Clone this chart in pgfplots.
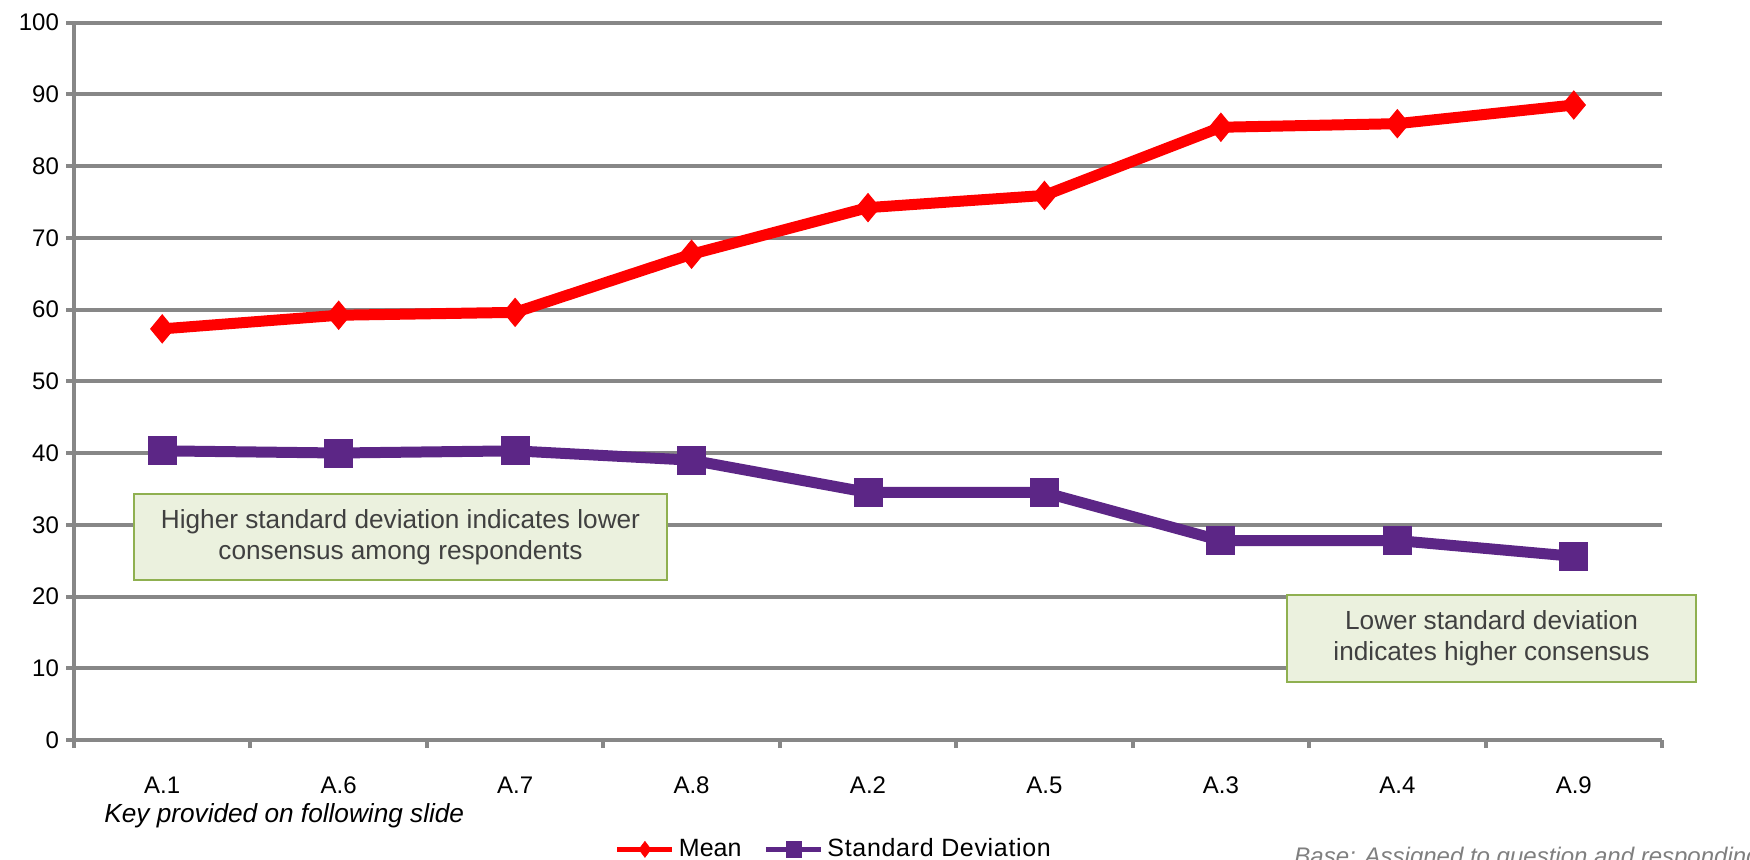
\documentclass[border=0pt]{standalone}
\usepackage{pgfplots}
\pgfplotsset{compat=1.18}
\usepackage{fontspec}
\setmainfont{Liberation Sans}
\definecolor{gridgray}{HTML}{878787}
\definecolor{sdpurple}{HTML}{5C2686}
\definecolor{boxfill}{HTML}{EBF1DE}
\definecolor{boxdraw}{HTML}{8FB050}
\definecolor{boxtext}{HTML}{404040}
\definecolor{basegray}{HTML}{7F7F7F}
\pgfplotsset{
  meanleg/.style={legend image code/.code={\draw[##1, line width=2.5pt, mark repeat=2, mark phase=2, mark size=4pt, mark options={solid, line width=0.3pt}] plot coordinates {(0pt,0pt) (13.75pt,0pt) (27.5pt,0pt)};}},
  sdleg/.style={legend image code/.code={\draw[##1, line width=2.5pt, mark repeat=2, mark phase=2, mark size=3.8pt, mark options={solid, line width=0.3pt}] plot coordinates {(0pt,0pt) (13.75pt,0pt) (27.5pt,0pt)};}},
}
\begin{document}
\begin{tikzpicture}
\useasboundingbox (0,0) rectangle (875pt,429.5pt);
\clip (0,0) rectangle (875pt,429.5pt);
\begin{axis}[
  at={(37pt,59.5pt)}, anchor=south west,
  scale only axis, width=794pt, height=358.75pt,
  xmin=-0.5, xmax=8.5, ymin=0, ymax=100,
  axis lines=left, axis line style={-, gridgray, line width=2pt},
  ytick={0,10,...,100},
  xtick={-0.5,0.5,...,8.5},
  x tick label as interval,
  xticklabels={A.1,A.6,A.7,A.8,A.2,A.5,A.3,A.4,A.9},
  ymajorgrids, major grid style={gridgray, line width=2pt},
  tick style={gridgray, line width=2pt},
  major tick length=4pt, tick align=outside,
  /pgf/number format/assume math mode=true,
  tick label style={font=\fontsize{12}{14}\selectfont, text=black},
  xticklabel style={yshift=-11pt},
  clip=false,
  legend style={at={(axis description cs:0.3404,-0.1524)}, anchor=west,
    draw=none, fill=none, inner sep=0pt, legend columns=2,
    font=\fontsize{12.5}{14}\selectfont,
    /tikz/every even column/.append style={column sep=9pt}},
]
\addplot[red, line width=5.5pt, mark=diamond*, mark size=7pt,
  mark options={solid, line width=0.5pt, xscale=1.1}, meanleg]
  coordinates {(0,57.3) (1,59.2) (2,59.6) (3,67.7) (4,74.2) (5,75.9) (6,85.4) (7,85.9) (8,88.5)};
\addlegendentry{Mean}
\addplot[sdpurple, line width=5.5pt, mark=square*, mark size=7pt,
  mark options={solid, line width=0.5pt}, sdleg]
  coordinates {(0,40.3) (1,40.0) (2,40.3) (3,39.0) (4,34.5) (5,34.5) (6,27.8) (7,27.8) (8,25.6)};
\addlegendentry{\addfontfeature{LetterSpace=2.7}Standard Deviation}
\end{axis}
\node[draw=boxdraw, line width=1pt, fill=boxfill, text=boxtext, minimum width=266.5pt, minimum height=43pt, align=center, inner sep=0pt, font=\fontsize{13.1}{15.6}\selectfont] at (200.25pt,161pt) {Higher standard deviation indicates lower\\consensus among respondents};
\node[draw=boxdraw, line width=1pt, fill=boxfill, text=boxtext, minimum width=204.5pt, minimum height=43.5pt, align=center, inner sep=0pt, font=\fontsize{13.1}{15.6}\selectfont] at (745.75pt,110.25pt) {Lower standard deviation\\indicates higher consensus};
\node[anchor=base west, inner sep=0pt, font=\fontsize{13.1}{15}\selectfont\itshape] at (52pt,18.5pt) {Key provided on following slide};
\node[anchor=base west, inner sep=0pt, text=basegray, font=\fontsize{12}{14}\selectfont\itshape] at (647pt,-2.75pt) {Base: Assigned to question and responding to the survey};
\end{tikzpicture}
\end{document}
